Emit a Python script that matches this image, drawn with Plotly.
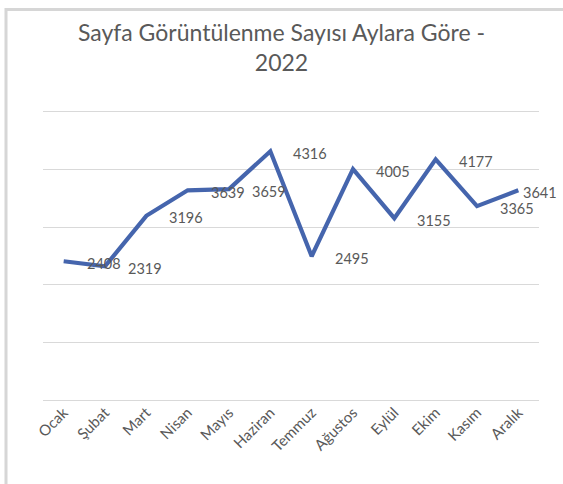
import plotly.graph_objects as go

months = ["Ocak", "Şubat", "Mart", "Nisan", "Mayıs", "Haziran",
          "Temmuz", "Ağustos", "Eylül", "Ekim", "Kasım", "Aralık"]
views = [2408, 2319, 3196, 3639, 3659, 4316, 2495, 4005, 3155, 4177, 3365, 3641]

TEXT = "#595959"
FONT = "Lato, 'Noto Sans', sans-serif"
BORDER = "#d6d6d6"

fig = go.Figure()
fig.add_trace(go.Scatter(
    x=months, y=views, mode="lines",
    line=dict(color="#4565AD", width=4.2, shape="linear"),
    hoverinfo="x+y", showlegend=False,
))

annotations = []
for i, (m, v) in enumerate(zip(months, views)):
    last = i == len(months) - 1
    annotations.append(dict(
        x=m, y=v, xref="x", yref="y", text=str(v), showarrow=False,
        xanchor="left", yanchor="middle",
        xshift=3 if last else 21, yshift=-2,
        font=dict(family=FONT, size=14.5, color=TEXT),
    ))

PH = 291  # plot height in px
PW = 496  # plot width in px
fig.update_layout(
    width=563, height=484,
    margin=dict(l=43, r=24, t=109, b=84, autoexpand=False),
    paper_bgcolor="white", plot_bgcolor="white",
    title=dict(
        text="Sayfa Görüntülenme Sayısı Aylara Göre -<br>2022",
        x=0.5, xanchor="center", y=1 - 41 / 484, yanchor="middle",
        font=dict(family=FONT, size=23, color=TEXT),
    ),
    xaxis=dict(
        type="category", range=[-0.5, 11.5], automargin=False,
        showgrid=False, showline=False, ticks="", zeroline=False,
        tickangle=-45, tickfont=dict(family=FONT, size=15, color=TEXT),
    ),
    yaxis=dict(
        range=[0, 5050], tickvals=[0, 1000, 2000, 3000, 4000, 5000],
        showgrid=True, gridcolor="#d9d9d9", automargin=False,
        gridwidth=1, zeroline=True, zerolinecolor="#d9d9d9", zerolinewidth=1,
        showticklabels=False, ticks="", showline=False,
    ),
    annotations=annotations,
    shapes=[
        dict(type="rect", xref="paper", yref="paper",
             x0=-38 / PW, x1=1 + 24 / PW, y0=1 + 98 / PH, y1=1 + 101 / PH,
             line=dict(width=0), fillcolor=BORDER),
        dict(type="rect", xref="paper", yref="paper",
             x0=-38.5 / PW, x1=-35.5 / PW, y0=-84 / PH, y1=1 + 101 / PH,
             line=dict(width=0), fillcolor=BORDER),
    ],
)

fig.write_html("out.html", config={"displayModeBar": False},
               post_script="document.body.style.margin='0';document.body.style.overflow='hidden';")
